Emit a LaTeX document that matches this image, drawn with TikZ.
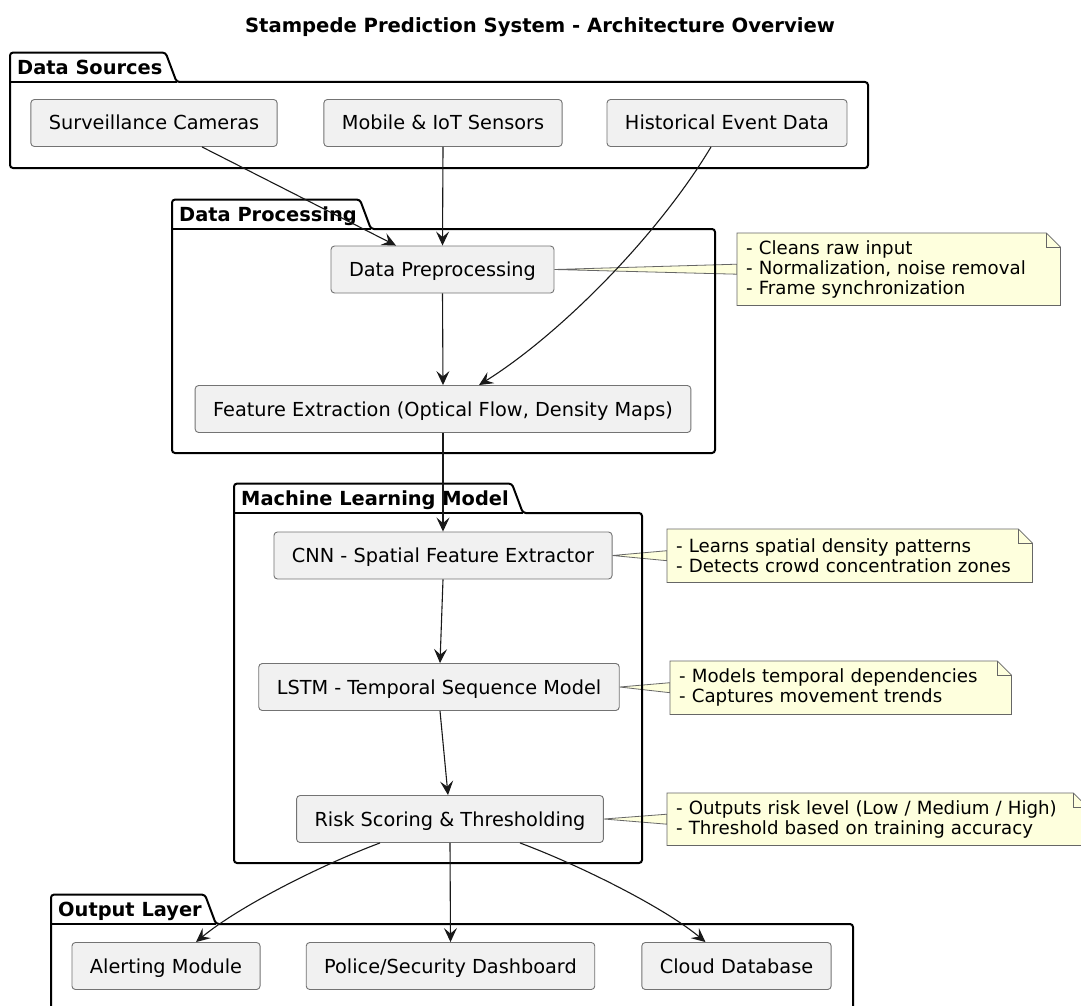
\documentclass[tikz,border=0pt]{standalone}
\usepackage{fontspec}
\setmainfont{DejaVu Sans}
\usetikzlibrary{arrows.meta,backgrounds}
\definecolor{notey}{HTML}{FEFFDD}
\definecolor{boxg}{HTML}{F1F1F1}
\begin{document}
\begin{tikzpicture}[x=1pt,y=-1pt,font=\fontsize{19.3}{23}\selectfont,
	b/.style={draw=black!55,line width=0.9pt,fill=boxg,rounded corners=3.5pt,minimum height=47pt,inner xsep=18pt,text height=14pt,text depth=0pt},
	nt/.style={anchor=north west,inner xsep=9pt,inner ysep=0pt,align=left,font=\fontsize{18.2}{20}\selectfont},
	ntl/.style={draw=black!60,line width=0.8pt,fill=notey},
	pk/.style={line width=2pt,rounded corners=3pt},
	lbl/.style={anchor=south west,inner xsep=7pt,inner ysep=0pt,minimum height=29pt,text height=14pt,text depth=0pt,font=\bfseries\fontsize{19.4}{23}\selectfont},
	ar/.style={-{Stealth[length=14pt,width=13pt,inset=5.5pt]},line width=1.1pt,black!90}]
	\newcommand{\pkg}[6]{\node[lbl] (#1) at (#2,#3) {#6};
		\draw[pk] ([xshift=7pt]#1.south east) -- ([xshift=-4pt]#1.north east) -- (#1.north west) -- (#2,#5) -- (#4,#5) -- (#4,#3) -- cycle;
		\draw[line width=2pt] (#2,#3) -- ([xshift=7pt]#1.south east);}
	\newcommand{\nfold}[1]{\draw[ntl] (#1.north west) -- ([xshift=-14pt]#1.north east) -- ([yshift=-14pt]#1.north east) -- (#1.south east) -- (#1.south west) -- cycle;
		\draw[ntl,fill=none] ([xshift=-14pt]#1.north east) |- ([yshift=-14pt]#1.north east);}
	\newcommand{\nlink}[2]{\draw[ntl] (#1.east) -- ([yshift=5pt]#2.west) -- ([yshift=-5pt]#2.west) -- cycle;}
	\useasboundingbox (0,0) rectangle (1081,1006);
	\clip (0,0) rectangle (1081,1006);
	\node[font=\bfseries\fontsize{19.6}{23}\selectfont,inner sep=0pt,text height=14.3pt,text depth=0pt] (title) at (540,25) {Stampede Prediction System - Architecture Overview};
	% packages
	\pkg{srcs}{10}{82}{868}{168}{Data Sources}
	\pkg{proc}{172}{229}{715}{453}{Data Processing}
	\pkg{ml}{234}{513}{642}{863}{Machine Learning Model}
	\pkg{outl}{51}{924}{853}{1040}{Output Layer}
	% components
	\node[b] (cams) at (154,123) {Surveillance Cameras};
	\node[b] (mobile) at (443,123) {Mobile \& IoT Sensors};
	\node[b] (hist) at (727,123) {Historical Event Data};
	\node[b] (prep) at (442.5,269.5) {Data Preprocessing};
	\node[b] (feat) at (443,409) {Feature Extraction (Optical Flow, Density Maps)};
	\node[b] (cnn) at (443,555.5) {CNN - Spatial Feature Extractor};
	\node[b] (lstm) at (439,687) {LSTM - Temporal Sequence Model};
	\node[b] (risk) at (450,819) {Risk Scoring \& Thresholding};
	\node[b] (alert) at (166,966) {Alerting Module};
	\node[b] (police) at (450.5,966) {Police/Security Dashboard};
	\node[b] (cloud) at (736.5,966) {Cloud Database};
	% notes
	\node[nt,text width=305pt,minimum height=72pt] (prepnote) at (737,233) {- Cleans raw input\\- Normalization, noise removal\\- Frame synchronization};
	\node[nt,text width=347pt,minimum height=53pt] (cnnnote) at (667,529) {- Learns spatial density patterns\\- Detects crowd concentration zones};
	\node[nt,text width=323pt,minimum height=53pt] (lstmnote) at (670,661) {- Models temporal dependencies\\- Captures movement trends};
	\node[nt,text width=402pt,minimum height=52pt] (risknote) at (667,793) {- Outputs risk level (Low / Medium / High)\\- Threshold based on training accuracy};
	\begin{scope}[on background layer]
		\fill[white] (0,0) rectangle (1081,1006);
		\nlink{prep}{prepnote} \nlink{cnn}{cnnnote} \nlink{lstm}{lstmnote} \nlink{risk}{risknote}
		\nfold{prepnote} \nfold{cnnnote} \nfold{lstmnote} \nfold{risknote}
	\end{scope}
	% connectors
	\draw[ar] ([xshift=48pt]cams.south) -- ([xshift=-46.5pt]prep.north);
	\draw[ar] (mobile.south) -- (prep.north);
	\draw[ar] ([xshift=-16pt]hist.south) .. controls +(-54,90) and +(80,-50) .. ([xshift=36pt]feat.north);
	\draw[ar] (prep.south) -- (feat.north);
	\draw[ar] (feat.south) -- (cnn.north);
	\draw[ar] (cnn.south) -- ([xshift=1pt]lstm.north);
	\draw[ar] ([xshift=1pt]lstm.south) -- ([xshift=-2pt]risk.north);
	\draw[ar] ([xshift=-70pt]risk.south) .. controls +(-59,22) and +(42,-35) .. ([xshift=30pt]alert.north);
	\draw[ar] (risk.south) -- (police.north);
	\draw[ar] ([xshift=70pt]risk.south) .. controls +(59,22) and +(-42,-35) .. ([xshift=-31pt]cloud.north);
\end{tikzpicture}
\end{document}
